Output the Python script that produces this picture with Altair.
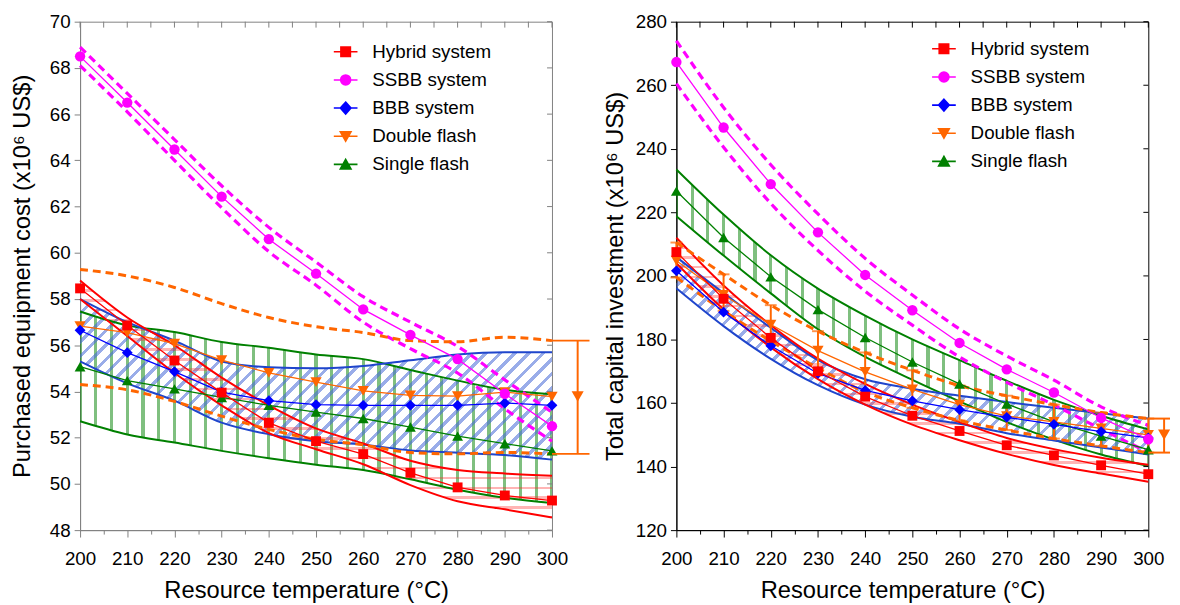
import altair as alt
import pandas as pd

# ---------------- data ----------------
T = [200, 210, 220, 230, 240, 250, 260, 270, 280, 290, 300]
X_TICKS = list(range(200, 301, 5))
PEC_TICKS = [48, 50, 52, 54, 56, 58, 60, 62, 64, 66, 68, 70]
TCI_TICKS = [120, 140, 160, 180, 200, 220, 240, 260, 280]

names = ["Hybrid system", "SSBB system", "BBB system", "Double flash", "Single flash"]
colors = ["#ff0000", "#ff00ff", "#0000ff", "#ff6600", "#008000"]

# Left panel: purchased equipment cost (x10^6 US$)
pec_hybrid = [58.46, 56.86, 55.34, 53.95, 52.64, 51.85, 51.29, 50.48, 49.85, 49.5, 49.28]
pec_hybrid_up = [58.8, 57.2, 56.0, 54.6, 53.4, 52.4, 51.75, 51.0, 50.6, 50.45, 50.35]
pec_hybrid_lo = [58.0, 56.4, 54.8, 53.4, 52.2, 51.5, 50.85, 49.95, 49.25, 48.9, 48.55]
pec_ssbb = [68.5, 66.5, 64.47, 62.43, 60.59, 59.1, 57.55, 56.45, 55.4, 53.9, 52.5]
pec_ssbb_up = [68.9, 66.9, 64.9, 62.9, 61.1, 59.6, 58.1, 57.0, 55.95, 54.5, 53.1]
pec_ssbb_lo = [68.1, 66.1, 64.0, 61.95, 60.05, 58.6, 57.0, 55.85, 54.8, 53.25, 51.85]
pec_bbb = [56.65, 55.68, 54.86, 53.97, 53.6, 53.43, 53.4, 53.4, 53.4, 53.5, 53.4]
pec_bbb_up = [58.0, 57.0, 56.2, 55.3, 55.05, 55.0, 55.1, 55.35, 55.6, 55.7, 55.7]
pec_bbb_lo = [55.3, 54.35, 53.6, 52.65, 52.15, 51.85, 51.7, 51.45, 51.35, 51.25, 51.05]
pec_df = [56.83, 56.55, 56.07, 55.36, 54.8, 54.4, 54.03, 53.83, 53.8, 53.97, 53.78]
pec_df_up = [59.28, 59.0, 58.5, 57.8, 57.2, 56.8, 56.55, 56.2, 56.15, 56.35, 56.2]
pec_df_lo = [54.3, 54.07, 53.57, 52.93, 52.36, 51.93, 51.69, 51.36, 51.3, 51.36, 51.3]
pec_sf = [55.07, 54.47, 54.11, 53.74, 53.4, 53.11, 52.83, 52.46, 52.07, 51.74, 51.43]
pec_sf_up = [57.46, 56.86, 56.57, 56.14, 55.89, 55.6, 55.4, 54.93, 54.47, 54.07, 53.88]
pec_sf_lo = [52.71, 52.14, 51.79, 51.43, 51.11, 50.83, 50.6, 50.2, 49.75, 49.4, 49.17]

# Right panel: total capital investment (x10^6 US$)
tci_hybrid = [207.5, 192.8, 180.5, 170.0, 162.0, 156.0, 151.2, 146.7, 143.5, 140.4, 137.6]
tci_hybrid_up = [212.0, 197.0, 184.5, 174.0, 166.0, 159.5, 154.0, 149.0, 145.5, 142.8, 140.6]
tci_hybrid_lo = [204.0, 189.5, 177.5, 167.5, 159.5, 153.2, 148.3, 144.0, 140.5, 137.8, 135.2]
tci_ssbb = [267.3, 246.7, 228.9, 213.7, 200.3, 189.2, 178.9, 170.6, 163.3, 155.3, 148.6]
tci_ssbb_up = [274.0, 253.0, 235.0, 219.5, 205.5, 194.0, 183.3, 174.8, 167.2, 158.8, 153.0]
tci_ssbb_lo = [260.5, 240.5, 222.8, 208.0, 195.2, 184.5, 174.5, 166.5, 159.4, 151.8, 144.5]
tci_bbb = [201.6, 188.6, 178.0, 169.3, 164.0, 160.7, 157.9, 155.5, 153.3, 151.0, 149.0]
tci_bbb_up = [205.9, 194.6, 183.7, 173.5, 167.5, 164.5, 162.3, 160.3, 158.5, 156.8, 155.1]
tci_bbb_lo = [196.1, 184.2, 173.9, 165.6, 159.5, 155.7, 153.5, 150.5, 148.2, 146.0, 143.8]
tci_df = [204.8, 194.0, 184.7, 176.5, 169.8, 164.3, 159.5, 155.9, 154.1, 152.0, 150.0]
tci_df_up = [210.5, 200.5, 190.8, 182.6, 175.9, 170.3, 165.5, 162.3, 159.5, 157.0, 155.1]
tci_df_lo = [199.5, 189.0, 179.5, 171.0, 163.5, 158.5, 154.5, 151.5, 148.8, 146.5, 144.4]
tci_sf = [226.7, 212.1, 199.7, 189.4, 180.6, 172.9, 166.0, 159.7, 154.1, 149.6, 145.3]
tci_sf_up = [233.5, 219.3, 206.5, 196.0, 187.5, 180.0, 173.5, 167.0, 161.0, 156.0, 151.7]
tci_sf_lo = [218.8, 206.4, 194.5, 183.2, 174.5, 167.3, 160.5, 154.0, 148.5, 143.8, 140.2]

# ---------------- style ----------------
W = 478
H = 515
FONT = "Liberation Sans"
TRANSP = "rgba(255,255,255,0)"
ORANGE = "#ff6600"
BAND_BLUE = "#1f45cc"

LEGEND_PATHS = [
    "M-1,0H1M-0.4,-0.4H0.4V0.4H-0.4Z",
    "M-1,0H1M0.42,0A0.42,0.42 0 1,1 -0.42,0A0.42,0.42 0 1,1 0.42,0Z",
    "M-1,0H1M0,-0.5L0.45,0L0,0.5L-0.45,0Z",
    "M-1,0H1M-0.45,-0.38H0.45L0,0.42Z",
    "M-1,0H1M-0.45,0.38H0.45L0,-0.42Z",
]


def stripe_stops(color, n, half):
    stops = []
    last = 0.0
    for i in range(n + 1):
        p = i / n
        a = max(last, p - half)
        b = min(1.0, p + half)
        if b <= a:
            continue
        stops += [
            {"offset": a, "color": TRANSP},
            {"offset": a, "color": color},
            {"offset": b, "color": color},
            {"offset": b, "color": TRANSP},
        ]
        last = b
    if last < 1.0:
        stops.append({"offset": 1.0, "color": TRANSP})
    return stops


def panel(d, ydom, yticks, ytitle, axis_color, lx, ly, ann_dx, cap_len, errorbars):
    ymin, ymax = ydom
    ppu = H / (ymax - ymin)
    xs = alt.Scale(domain=[200, 300], nice=False, zero=False)
    ys = alt.Scale(domain=ydom, nice=False, zero=False)
    xaxis = alt.Axis(
        values=X_TICKS,
        labelExpr="datum.value % 10 == 0 ? datum.label : ''",
        labelOverlap=False,
        labelFlush=False,
        tickSize={"condition": {"test": "datum.value % 10 == 0", "value": 7}, "value": 4},
        labelPadding=13,
        titlePadding=10,
        titleX=W / 2 - 10,
        title="Resource temperature (°C)",
        domainColor=axis_color,
        tickColor=axis_color,
        grid=False,
    )
    yaxis = alt.Axis(
        values=yticks,
        title=ytitle,
        tickSize=6,
        labelPadding=4,
        labelFlush=False,
        titlePadding=15 if axis_color != "black" else 8,
        domainColor=axis_color,
        tickColor=axis_color,
        grid=False,
        labelOverlap=False,
    )

    def X(f="T"):
        return alt.X(f + ":Q", scale=xs, axis=xaxis)

    def Y(f):
        return alt.Y(f + ":Q", scale=ys, axis=yaxis)

    def frame(v, up, lo):
        return pd.DataFrame({"T": T, "v": v, "up": up, "lo": lo})

    hy = frame(*d["hybrid"])
    ss = frame(*d["ssbb"])
    bb = frame(*d["bbb"])
    df_ = frame(*d["df"])
    sf = frame(*d["sf"])

    layers = []

    # ---- hatched bands ----
    g_grad = {"gradient": "linear", "x1": 0, "y1": 0, "x2": 1, "y2": 0,
              "stops": stripe_stops("rgba(0,128,0,0.5)", 30, 1.6 / W)}
    layers.append(alt.Chart(sf).mark_area(fill=g_grad, interpolate="monotone")
                  .encode(x=X(), y=Y("lo"), y2=alt.Y2("up:Q")))
    hb = (max(bb["up"]) - min(bb["lo"])) * ppu
    s = W * (W + hb) / (W * W + hb * hb)
    b_grad = {"gradient": "linear", "x1": 0, "y1": 0, "x2": s, "y2": s * hb / W,
              "stops": stripe_stops("rgba(70,105,215,0.55)", int(round((W + hb) / 14.5)), 2.3 / (W + hb))}
    layers.append(alt.Chart(bb).mark_area(fill=b_grad, interpolate="monotone")
                  .encode(x=X(), y=Y("lo"), y2=alt.Y2("up:Q")))
    hr = (max(hy["up"]) - min(hy["lo"])) * ppu
    r_grad = {"gradient": "linear", "x1": 0, "y1": 0, "x2": 0, "y2": 1,
              "stops": stripe_stops("rgba(255,40,40,0.35)", int(round(hr / 10)), 1.3 / hr)}
    layers.append(alt.Chart(hy).mark_area(fill=r_grad, interpolate="monotone")
                  .encode(x=X(), y=Y("lo"), y2=alt.Y2("up:Q")))

    # ---- band outlines ----
    def outline(data, color, width, dash=None):
        kw = dict(color=color, strokeWidth=width, interpolate="monotone")
        if dash:
            kw["strokeDash"] = dash
        return (alt.Chart(data).transform_fold(["lo", "up"], as_=["k", "val"])
                .mark_line(**kw).encode(x=X(), y=Y("val"), detail="k:N"))

    layers.append(outline(sf, "#008000", 2))
    layers.append(outline(bb, BAND_BLUE, 2))
    layers.append(outline(hy, "#ff0000", 2))
    layers.append(outline(ss, "#ff00ff", 3.2, [8, 5]))
    layers.append(outline(df_, ORANGE, 3, [8, 5]))

    # ---- error bars for double flash (right panel) ----
    if errorbars:
        layers.append(alt.Chart(df_).mark_rule(color=ORANGE, strokeWidth=2)
                      .encode(x=X(), y=Y("lo"), y2=alt.Y2("up:Q")))
        layers.append(alt.Chart(df_).transform_fold(["lo", "up"], as_=["k", "val"])
                      .mark_tick(color=ORANGE, thickness=2, size=12, orient="horizontal")
                      .encode(x=X(), y=Y("val")))

    # ---- series lines and markers ----
    specs = [(sf, "#008000", "triangle-up", 120), (df_, ORANGE, "triangle-down", 130),
             (bb, "#0000ff", "diamond", 120), (ss, "#ff00ff", "circle", 110),
             (hy, "#ff0000", "square", 100)]
    for data, c, shp, sz in specs:
        layers.append(alt.Chart(data).mark_line(color=c, strokeWidth=1.3).encode(x=X(), y=Y("v")))
    for data, c, shp, sz in specs:
        layers.append(alt.Chart(data).mark_point(filled=True, shape=shp, size=sz, color=c, opacity=1)
                      .encode(x=X(), y=Y("v")))

    # ---- range annotation beside the plot (double flash band at 300 C) ----
    ann = pd.DataFrame({"lo": [d["df"][2][-1]], "up": [d["df"][1][-1]], "v": [d["df"][0][-1]]})
    layers.append(alt.Chart(ann).mark_rule(color=ORANGE, strokeWidth=2)
                  .encode(x=alt.value(W + ann_dx), y=Y("lo"), y2=alt.Y2("up:Q")))
    layers.append(alt.Chart(ann).transform_fold(["lo", "up"], as_=["k", "val"])
                  .mark_rule(color=ORANGE, strokeWidth=2)
                  .encode(x=alt.value(W), x2=alt.value(W + cap_len), y=Y("val")))
    layers.append(alt.Chart(ann).mark_point(filled=True, shape="triangle-down", size=150, color=ORANGE, opacity=1)
                  .encode(x=alt.value(W + ann_dx), y=Y("v")))

    # ---- inward ticks on the top and right frame ----
    layers.append(alt.Chart(pd.DataFrame({"t": X_TICKS})).mark_rule(color=axis_color, strokeWidth=1)
                  .encode(x=X("t"), y=alt.value(0), y2=alt.value(6)))
    layers.append(alt.Chart(pd.DataFrame({"t": yticks})).mark_rule(color=axis_color, strokeWidth=1)
                  .encode(y=Y("t"), x=alt.value(W), x2=alt.value(W - 5)))

    # ---- legend ----
    leg = alt.Legend(title=None, orient="none", legendX=lx, legendY=ly, labelFont=FONT,
                     labelFontSize=19, labelColor="black", labelOffset=14, symbolSize=576,
                     symbolStrokeWidth=1.6, rowPadding=5.5, padding=0, labelLimit=400)
    leg_df = pd.DataFrame({"series": names})
    layers.append(alt.Chart(leg_df).transform_filter("false")
                  .mark_point(filled=True, opacity=1, strokeWidth=1.6, size=576)
                  .encode(fill=alt.Fill("series:N", scale=alt.Scale(domain=names, range=colors), legend=leg),
                          stroke=alt.Stroke("series:N", scale=alt.Scale(domain=names, range=colors), legend=leg),
                          shape=alt.Shape("series:N", scale=alt.Scale(domain=names, range=LEGEND_PATHS), legend=leg)))

    return alt.layer(*layers).properties(
        width=W, height=H,
        view=alt.ViewBackground(stroke=axis_color, strokeWidth=1),
    )


left = panel(
    {"hybrid": (pec_hybrid, pec_hybrid_up, pec_hybrid_lo), "ssbb": (pec_ssbb, pec_ssbb_up, pec_ssbb_lo),
     "bbb": (pec_bbb, pec_bbb_up, pec_bbb_lo), "df": (pec_df, pec_df_up, pec_df_lo),
     "sf": (pec_sf, pec_sf_up, pec_sf_lo)},
    [48, 70], PEC_TICKS, "Purchased equipment cost (x10\u2076 US$)", "#808080", 256, 17.5, 26, 38, False)

right = panel(
    {"hybrid": (tci_hybrid, tci_hybrid_up, tci_hybrid_lo), "ssbb": (tci_ssbb, tci_ssbb_up, tci_ssbb_lo),
     "bbb": (tci_bbb, tci_bbb_up, tci_bbb_lo), "df": (tci_df, tci_df_up, tci_df_lo),
     "sf": (tci_sf, tci_sf_up, tci_sf_lo)},
    [120, 280], TCI_TICKS, "Total capital investment (x10\u2076 US$)", "black", 258, 14.5, 16, 22, True)

chart = (
    alt.hconcat(left, right, spacing=11)
    .resolve_scale(fill="independent", stroke="independent", shape="independent")
    .properties(padding={"left": 2, "top": 0, "right": 0, "bottom": 0})
    .configure(background="white")
    .configure_axis(labelFont=FONT, titleFont=FONT, labelFontSize=19, titleFontSize=24,
                    titleFontWeight="normal", labelColor="black", titleColor="black")
)

chart.save("out.html", embed_options={"renderer": "svg", "actions": False})
